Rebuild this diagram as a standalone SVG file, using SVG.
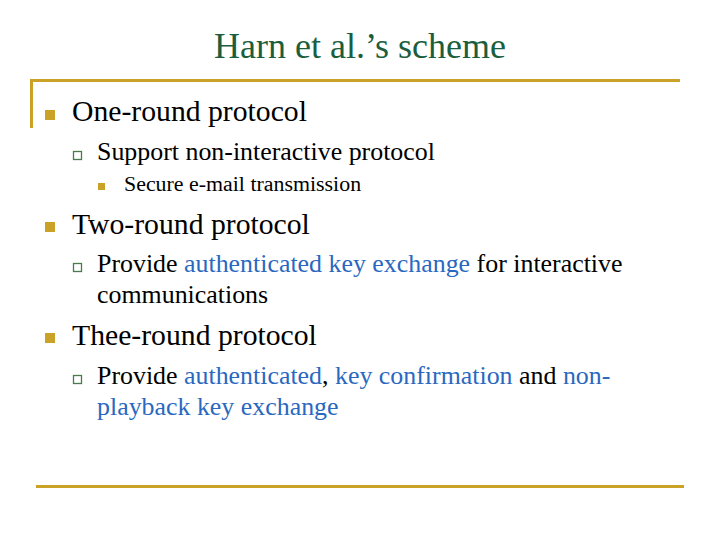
<svg xmlns="http://www.w3.org/2000/svg" width="720" height="540" viewBox="0 0 720 540">
<style>
text{font-family:"Liberation Serif","Times New Roman",serif;fill:#000}
.title{font-size:36px;fill:#1b5e3e}
.l1{font-size:29.7px}
.l2{font-size:25.9px}
.l3{font-size:21.9px}
.b{fill:#2a68c0}
.gold{fill:#c9a227}
.hollow{fill:#fff;stroke:#4a7a4a;stroke-width:1.3}
.rule{stroke:#c9a227;stroke-width:3;fill:none}
</style>
<rect width="720" height="540" fill="#fff"/>
<text class="title" x="360" y="58" text-anchor="middle">Harn et al.’s scheme</text>
<path class="rule" d="M31.5 128 V80.5 H680"/>
<path class="rule" d="M36 486.5 H684"/>
<g id="b1">
<rect class="gold" x="45" y="110" width="10" height="10"/>
<text class="l1" x="72" y="121">One-round protocol</text>
</g>
<g id="b1a">
<rect class="hollow" x="73.5" y="151.5" width="8" height="8"/>
<text class="l2" x="97" y="160">Support non-interactive protocol</text>
</g>
<g id="b1a1">
<rect class="gold" x="98" y="183" width="7" height="7"/>
<text class="l3" x="124" y="191">Secure e-mail transmission</text>
</g>
<g id="b2">
<rect class="gold" x="45" y="222" width="10" height="10"/>
<text class="l1" x="72" y="234">Two-round protocol</text>
</g>
<g id="b2a">
<rect class="hollow" x="73.5" y="263.5" width="8" height="8"/>
<text class="l2" x="97" y="272">Provide <tspan class="b">authenticated key exchange</tspan> for interactive</text>
<text class="l2" x="97" y="303">communications</text>
</g>
<g id="b3">
<rect class="gold" x="45" y="333" width="10" height="10"/>
<text class="l1" x="72" y="345">Thee-round protocol</text>
</g>
<g id="b3a">
<rect class="hollow" x="73.5" y="375.5" width="8" height="8"/>
<text class="l2" x="97" y="384">Provide <tspan class="b">authenticated</tspan>, <tspan class="b">key confirmation</tspan> and <tspan class="b">non-</tspan></text>
<text class="l2" x="97" y="415"><tspan class="b">playback key exchange</tspan></text>
</g>
</svg>
